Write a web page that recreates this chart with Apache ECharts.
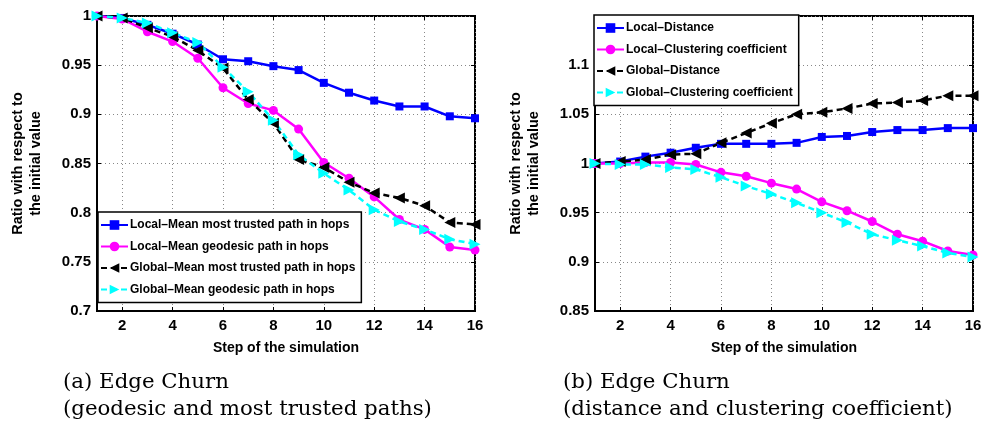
<!DOCTYPE html>
<html>
<head>
<meta charset="utf-8">
<script src="https://cdn.jsdelivr.net/npm/echarts@6/dist/echarts.min.js"></script>
<style>
  html, body { margin: 0; padding: 0; background: #fff; }
  #main { width: 995px; height: 425px; }
</style>
</head>
<body>
<div id="main"></div>
<script>
// simulation steps
const steps = [1, 2, 3, 4, 5, 6, 7, 8, 9, 10, 11, 12, 13, 14, 15, 16]
const xTicks = [2, 4, 6, 8, 10, 12, 14, 16]

// (a) geodesic and most trusted paths
const localTrusted = [1, 0.998, 0.991, 0.982, 0.971, 0.956, 0.954, 0.949, 0.945, 0.932, 0.922, 0.914, 0.908, 0.908, 0.898, 0.896]
const localGeodesic = [1, 0.997, 0.984, 0.974, 0.957, 0.927, 0.911, 0.904, 0.885, 0.851, 0.835, 0.816, 0.793, 0.783, 0.765, 0.762]
const globalTrusted = [1, 0.998, 0.988, 0.979, 0.965, 0.947, 0.915, 0.891, 0.854, 0.846, 0.831, 0.820, 0.815, 0.807, 0.790, 0.788]
const globalGeodesic = [1, 0.998, 0.993, 0.983, 0.973, 0.948, 0.923, 0.894, 0.859, 0.840, 0.823, 0.803, 0.791, 0.783, 0.773, 0.768]

// (b) distance and clustering coefficient
const localDistance = [1, 1.002, 1.007, 1.011, 1.016, 1.020, 1.020, 1.020, 1.021, 1.027, 1.028, 1.032, 1.034, 1.034, 1.036, 1.036]
const localClustering = [1, 1.000, 1.001, 1.001, 0.999, 0.991, 0.987, 0.980, 0.974, 0.961, 0.952, 0.941, 0.928, 0.921, 0.911, 0.907]
const globalDistance = [1, 1.002, 1.004, 1.009, 1.010, 1.021, 1.031, 1.041, 1.050, 1.052, 1.056, 1.061, 1.062, 1.064, 1.069, 1.069]
const globalClustering = [1, 0.999, 0.999, 0.996, 0.994, 0.986, 0.977, 0.969, 0.960, 0.950, 0.940, 0.928, 0.922, 0.916, 0.909, 0.905]

const namesA = ['Local\u2013Mean most trusted path in hops', 'Local\u2013Mean geodesic path in hops',
  'Global\u2013Mean most trusted path in hops', 'Global\u2013Mean geodesic path in hops']
const namesB = ['Local\u2013Distance', 'Local\u2013Clustering coefficient',
  'Global\u2013Distance', 'Global\u2013Clustering coefficient']

const font = 'Liberation Sans, Arial, sans-serif'
const serif = 'DejaVu Serif, serif'

const styles = [
  { color: '#0000ff', symbol: 'rect', size: 8, rot: 0, dash: 'solid' },
  { color: '#ff00ff', symbol: 'circle', size: 9, rot: 0, dash: 'solid' },
  { color: '#000000', symbol: 'triangle', size: 11, rot: 90, dash: [6, 4] },
  { color: '#00ffff', symbol: 'triangle', size: 11, rot: -90, dash: [6, 4] }
]

const mkSeries = (name, values, st, axisIdx) => ({
  name: name,
  type: 'line',
  xAxisIndex: axisIdx,
  yAxisIndex: axisIdx,
  data: steps.map((s, i) => [s, values[i]]),
  symbol: st.symbol,
  symbolSize: st.size,
  symbolRotate: st.rot,
  color: st.color,
  itemStyle: { color: st.color },
  lineStyle: { color: st.color, width: 2.5, type: st.dash },
  animation: false
})

const grids = [
  { left: 97, top: 16, width: 378, height: 295, show: true, borderColor: '#000', borderWidth: 2 },
  { left: 595, top: 16, width: 378, height: 295, show: true, borderColor: '#000', borderWidth: 2 }
]

const mkX = (gi) => ({
  type: 'value', gridIndex: gi, min: 1, max: 16,
  name: 'Step of the simulation', nameLocation: 'middle', nameGap: 30,
  nameTextStyle: { fontFamily: font, fontWeight: 'bold', fontSize: 14, color: '#000' },
  axisLine: { lineStyle: { color: '#000', width: 2 } },
  axisTick: { inside: true, length: 4, customValues: xTicks, lineStyle: { color: '#000' } },
  axisLabel: { customValues: xTicks, margin: 7, fontFamily: font, fontWeight: 'bold', fontSize: 15, color: '#000' },
  splitLine: { show: true, customValues: xTicks, lineStyle: { color: '#888', type: [1, 3], width: 1 } }
})

// mirrored tick marks on the top edge
const mkXTop = (gi) => ({
  type: 'value', gridIndex: gi, min: 1, max: 16, position: 'top',
  axisLine: { show: false },
  axisTick: { inside: true, length: 4, customValues: xTicks, lineStyle: { color: '#000' } },
  axisLabel: { show: false },
  splitLine: { show: false }
})

const mkY = (gi, min, max) => ({
  type: 'value', gridIndex: gi, min: min, max: max, interval: 0.05,
  name: 'Ratio with respect to\nthe initial value', nameLocation: 'middle', nameGap: 52,
  nameTextStyle: { fontFamily: font, fontWeight: 'bold', fontSize: 14.5, color: '#000', lineHeight: 18 },
  axisLine: { lineStyle: { color: '#000', width: 2 } },
  axisTick: { inside: true, length: 4, lineStyle: { color: '#000' } },
  axisLabel: {
    margin: 6, fontFamily: font, fontWeight: 'bold', fontSize: 15, color: '#000',
    formatter: v => (v > 1.12 ? '' : String(+v.toFixed(2)))
  },
  splitLine: { show: true, lineStyle: { color: '#888', type: [1, 3], width: 1 } }
})

// mirrored tick marks on the right edge
const mkYRight = (gi, min, max) => ({
  type: 'value', gridIndex: gi, min: min, max: max, interval: 0.05, position: 'right',
  axisLine: { show: false },
  axisTick: { inside: true, length: 4, lineStyle: { color: '#000' } },
  axisLabel: { show: false },
  splitLine: { show: false }
})

const mkLegend = (names, left, top) => ({
  data: names, orient: 'vertical', left: left, top: top,
  itemWidth: 27, itemHeight: 12, itemGap: 9.5,
  padding: [7, 6, 7, 2],
  borderColor: '#000', borderWidth: 1.5, backgroundColor: '#fff',
  textStyle: { fontFamily: font, fontWeight: 'bold', fontSize: 12, color: '#000', padding: [0, 0, 0, -3] },
  selectedMode: false
})

const option = {
  animation: false,
  grid: grids,
  xAxis: [mkX(0), mkX(1), mkXTop(0), mkXTop(1)],
  yAxis: [mkY(0, 0.7, 1), mkY(1, 0.85, 1.15), mkYRight(0, 0.7, 1), mkYRight(1, 0.85, 1.15)],
  legend: [mkLegend(namesA, 98, 212), mkLegend(namesB, 594, 15)],
  title: [
    { text: '(a) Edge Churn\n(geodesic and most trusted paths)', left: 58, top: 364,
      textStyle: { fontFamily: serif, fontWeight: 'normal', fontSize: 21.3, color: '#000', lineHeight: 27 } },
    { text: '(b) Edge Churn\n(distance and clustering coefficient)', left: 558, top: 364,
      textStyle: { fontFamily: serif, fontWeight: 'normal', fontSize: 21.3, color: '#000', lineHeight: 27 } }
  ],
  series: [
    mkSeries(namesA[0], localTrusted, styles[0], 0),
    mkSeries(namesA[1], localGeodesic, styles[1], 0),
    mkSeries(namesA[2], globalTrusted, styles[2], 0),
    mkSeries(namesA[3], globalGeodesic, styles[3], 0),
    mkSeries(namesB[0], localDistance, styles[0], 1),
    mkSeries(namesB[1], localClustering, styles[1], 1),
    mkSeries(namesB[2], globalDistance, styles[2], 1),
    mkSeries(namesB[3], globalClustering, styles[3], 1)
  ]
}

const chart = echarts.init(document.getElementById('main'))
chart.setOption(option)
</script>
</body>
</html>
